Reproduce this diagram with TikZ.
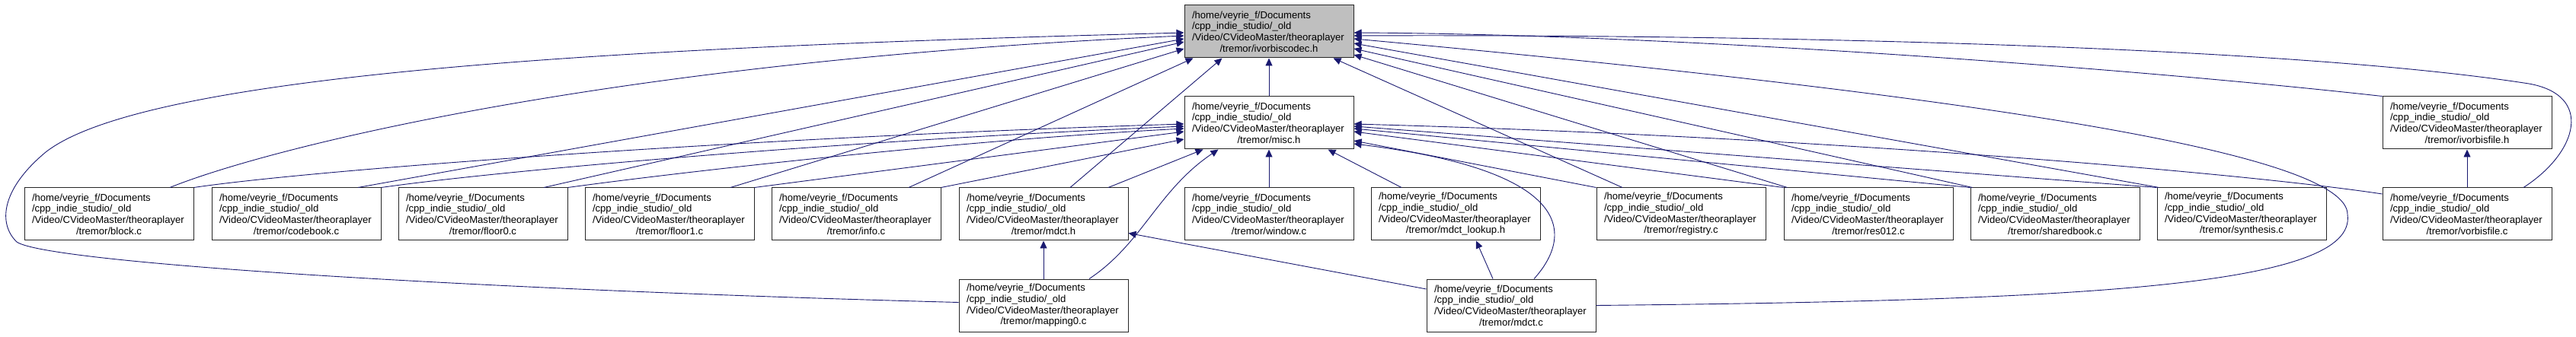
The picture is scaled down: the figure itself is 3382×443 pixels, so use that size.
\documentclass[tikz,border=0pt]{standalone}
\usepackage{fontspec}
\setmainfont{Liberation Sans}
\usepackage{tikz}
\usetikzlibrary{arrows.meta, calc}
\definecolor{inclblue}{HTML}{191970}
\definecolor{curgray}{HTML}{BFBFBF}
\newcommand{\tremorpath}[1]{/home/veyrie\_f/Documents\\/cpp\_indie\_studio/\_old\\/Video/CVideoMaster/theoraplayer\\\makebox[\linewidth]{/tremor/#1}}
\tikzset{
  % plain box = one file of the include graph
  filebox/.style={rectangle, draw=black!85, fill=white, line width=1pt,
                  text width=202pt, align=left, inner xsep=10pt,
                  minimum height=69pt, font=\fontsize{13.1}{14.7}\selectfont},
  % grey box = the header the graph is about
  filebox current/.style={filebox, fill=curgray},
  % include edge, tip on the included file
  incl/.style={-{Triangle[length=10pt,width=9pt]}, draw=inclblue, line width=0.9pt},
}

\begin{document}
\begin{tikzpicture}[x=1pt, y=-1pt]
  \useasboundingbox (0,0) rectangle (3382,443);
  \node[filebox current] (codec) at (1666,41.5) {\tremorpath{ivorbiscodec.h}};
  \node[filebox] (misc) at (1666,161.5) {\tremorpath{misc.h}};
  \node[filebox] (vfileh) at (3239,161.5) {\tremorpath{ivorbisfile.h}};
  \foreach \nm/\xc/\fn in {block/143/block.c, codebook/389/codebook.c,
      floor0/634/floor0.c, floor1/879/floor1.c, info/1124/info.c,
      mdcth/1370/mdct.h, window/1666/window.c, lookup/1911/mdct\_lookup.h,
      registry/2207/registry.c, res/2453/res012.c, shared/2698/sharedbook.c,
      synth/2943/synthesis.c, vfile/3239/vorbisfile.c}
    \node[filebox] (\nm) at (\xc,281.5) {\tremorpath{\fn}};
  \node[filebox] (mapping) at (1370,401.5) {\tremorpath{mapping0.c}};
  \node[filebox] (mdctc) at (1984,401.5) {\tremorpath{mdct.c}};

  % into ivorbiscodec.h
  \draw[incl] (misc) -- (codec);
  \draw[incl] ([yshift=4pt]mapping.west) .. controls (600,380) and (60,345) .. (22,318)
    .. controls (-2,295) and (0,250) .. (60,200)
    .. controls (200,90) and (900,60) .. ([yshift=-1.5pt]codec.west);
  \draw[incl] ([xshift=80pt]block.north) .. controls (350,195) and (800,80) .. ([yshift=-5.5pt]codec.west);
  \draw[incl] ([xshift=81pt]codebook.north) -- ([yshift=-9.5pt]codec.west);
  \draw[incl] ([xshift=80pt]floor0.north) -- ([yshift=-13.5pt]codec.west);
  \draw[incl] ([xshift=80pt]floor1.north) -- ([yshift=-22.5pt]codec.west);
  \draw[incl] ([xshift=69pt]info.north) -- ([xshift=12pt]codec.south west);
  \draw[incl] ([xshift=35pt]mdcth.north) -- ([xshift=50pt]codec.south west);
  \draw[incl] ([xshift=-77pt]registry.north) -- ([xshift=-27pt]codec.south east);
  \draw[incl] ([xshift=5pt]res.north west) -- ([yshift=-30.5pt]codec.east);
  \draw[incl] ([xshift=3pt]shared.north west) -- ([yshift=-22.5pt]codec.east);
  \draw[incl] ([xshift=3pt]synth.north west) -- ([yshift=-15.5pt]codec.east);
  \draw[incl] (mdctc.east) .. controls (2750,395) and (3095,375) .. (3082,282)
    .. controls (3082,215) and (2750,140) .. ([yshift=-9.5pt]codec.east);
  \draw[incl] ([xshift=74pt]vfile.north) .. controls (3385,200) and (3405,125) .. (3320,110)
    .. controls (3000,60) and (2300,45) .. ([yshift=-5.5pt]codec.east);
  \draw[incl] (vfileh.north west) .. controls (2800,90) and (2200,45) .. ([yshift=-1.5pt]codec.east);

  % into misc.h
  \draw[incl] (block.north east) .. controls (420,222) and (1000,180) .. ([yshift=-1.5pt]misc.west);
  \draw[incl] (codebook.north east) .. controls (650,225) and (1100,185) .. ([yshift=-4.5pt]misc.west);
  \draw[incl] (floor0.north east) .. controls (880,228) and (1250,185) .. ([yshift=-7.5pt]misc.west);
  \draw[incl] (floor1.north east) -- ([yshift=-11.5pt]misc.west);
  \draw[incl] (info.north east) -- ([yshift=-21.5pt]misc.west);
  \draw[incl] ([xshift=85pt]mdcth.north) -- ([xshift=25pt]misc.south west);
  \draw[incl] ([xshift=60pt]mapping.north) .. controls (1500,320) and (1520,250) .. ([xshift=45pt]misc.south west);
  \draw[incl] (window) -- (misc);
  \draw[incl] ([xshift=-71pt]lookup.north) -- ([xshift=-34pt]misc.south east);
  \draw[incl] (registry.north west) -- ([yshift=-23.5pt]misc.east);
  \draw[incl] (res.north west) -- ([yshift=-11.5pt]misc.east);
  \draw[incl] (shared.north west) -- ([yshift=-7.5pt]misc.east);
  \draw[incl] (synth.north west) -- ([yshift=-4.5pt]misc.east);
  \draw[incl] ([yshift=26.5pt]vfile.west) .. controls (2950,228) and (2400,180) .. ([yshift=-1.5pt]misc.east);
  \draw[incl] ([xshift=30pt]mdctc.north) .. controls (2065,310) and (2070,225) .. ([yshift=-27.5pt]misc.east);

  % the rest
  \draw[incl] (mapping) -- (mdcth);
  \draw[incl] ([yshift=21.5pt]mdctc.west) -- ([yshift=-25pt]mdcth.east);
  \draw[incl] ([xshift=-24pt]mdctc.north) -- ([xshift=27pt]lookup.south);
  \draw[incl] (vfile) -- (vfileh);
\end{tikzpicture}
\end{document}
